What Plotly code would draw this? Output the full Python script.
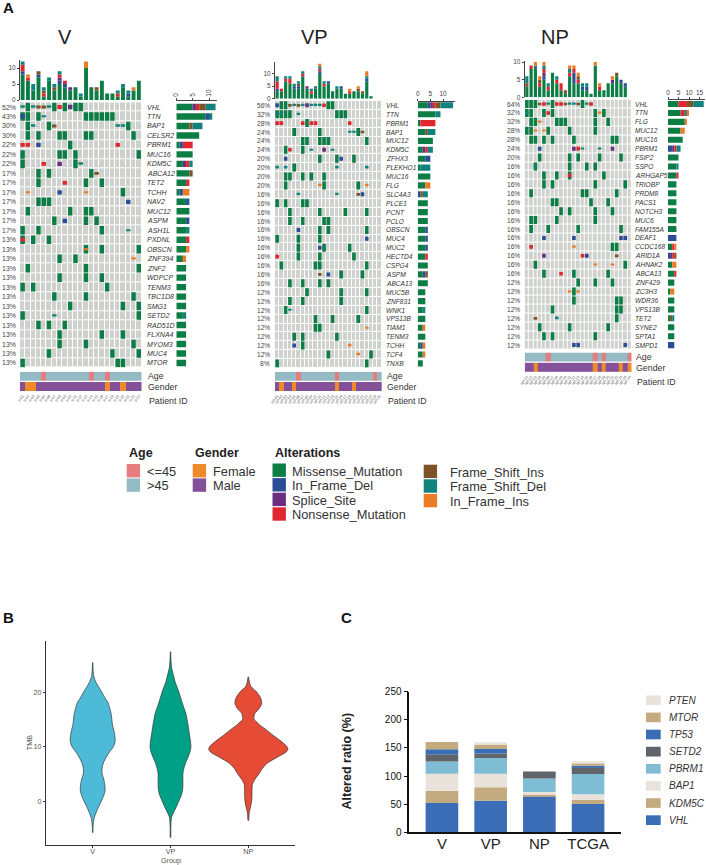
import numpy as np
import plotly.graph_objects as go

W, H = 706, 865
FONT = "Liberation Sans"

# alteration codes: M missense, D in-frame del, S splice, N nonsense,
# I frameshift ins, F frameshift del, A in-frame ins
# lowercase in a cell string = green cell with that alteration drawn on top
alt_codes = ["M", "D", "S", "N", "I", "F", "A"]
alt_names = ["Missense_Mutation", "In_Frame_Del", "Splice_Site", "Nonsense_Mutation",
             "Frame_Shift_Ins", "Frame_Shift_Del", "In_Frame_Ins"]
alt_colors = ["#0B7D45", "#2B4C96", "#6A2D82", "#E0272F", "#7C5229", "#12827C", "#EC7B27"]
alt_heights = [0.9, 0.45, 0.45, 0.4, 0.3, 0.18, 0.18]

# ---- V ----
v_genes = ["VHL", "TTN", "BAP1", "CELSR2", "PBRM1", "MUC16", "KDM5C", "ABCA12", "TET2", "TCHH", "NAV2",
           "MUC12", "ASPM", "ASH1L", "PXDNL", "OBSCN", "ZNF394", "ZNF2", "WDPCP", "TENM3", "TBC1D8",
           "SMG1", "SETD2", "RAD51D", "FLXNA4", "MYOM3", "MUC4", "MTOR"]
v_pcts = ["52%", "43%", "30%", "30%", "22%", "22%", "22%", "17%", "17%", "17%", "17%", "17%", "17%", "17%",
          "13%", "13%", "13%", "13%", "13%", "13%", "13%", "13%", "13%", "13%", "13%", "13%", "13%", "13%"]
v_cells = [
    "FMFIIFMNMSMM...........",
    "dM.MF.......MMMMMM.....",
    ".MF..MI...........FFM..",
    ".M.M...MM...MM.......M.",
    "NN.D.....M........N....",
    "M......MM.M...........M",
    "M...N..S..MF...........",
    "...M.M.......MI........",
    "...M....N...M..M.......",
    ".A.....D....A......M...",
    "...MMM..............D..",
    ".M.......M..MM.........",
    "......M.D...M.M........",
    "M..M...........M....F..",
    "n.M..M.................",
    "............a..M......M",
    ".......M..M..........A.",
    ".M..........M.........M",
    ".......M....M..M.......",
    "M.M.............M......",
    "......M.....M........M.",
    ".........M.........M..M",
    "M.....F...............M",
    "...M.M..M..............",
    ".......M.......M...M...",
    ".......M....M........M.",
    ".....M...........M....M",
    "M.................MM...",
]
v_top = ["MMMMMMMMDNNF", "MMMMMMNA", "MMMFF", "MMMMMMMDI", "MNIF", "MMMMMMF", "MMMIF", "MMMMMDSNF", "MMMMDN",
         "MMMS", "MMMM", "MF", "MMMMMMMMMMAA", "MMMM", "MMMI", "MMMMMM", "MM", "MM", "MNF", "MMMMF", "MDF",
         "MMMA", "MMMMMM"]
v_side = ["MMMMMSNIIFFF", "MMMMMMMMMDF", "MMMMIFFF", "MMMMMMM", "MDNNN", "MMMMM", "MMSNF", "MMMMI", "MMMN",
          "MDAA", "MMMD", "MMMM", "MMMD", "MMMF", "MMMN", "MMMA", "MMA", "MMM", "MMM", "MMM", "MMM", "MMM",
          "MMF", "MMM", "MMM", "MMM", "MMM", "MMM"]
v_age_young = [4, 13, 16]
v_female = [1, 2, 16, 19]

# ---- VP ----
vp_genes = ["VHL", "TTN", "PBRM1", "BAP1", "MUC12", "KDM5C", "ZFHX3", "PLEKHO1", "MUC16", "FLG", "SLC4A3",
            "PLCE1", "PCNT", "PCLO", "OBSCN", "MUC4", "MUC2", "HECTD4", "CSPG4", "ASPM", "ABCA13", "MUC5B",
            "ZNF831", "WNK1", "VPS13B", "TIAM1", "TENM3", "TCHH", "TCF4", "TNXB"]
vp_pcts = ["56%", "32%", "28%", "24%", "24%", "24%", "20%", "20%", "20%", "20%", "16%", "16%", "16%", "16%", "16%",
           "16%", "16%", "16%", "16%", "16%", "16%", "12%", "12%", "12%", "12%", "12%", "12%", "12%", "12%", "8%"]
vp_cells = [
    "DMMIFIFSFFFNMM...........",
    "ffMM.F........MMM........",
    "NN....NMNN.......N.......",
    "....M.....M......FFMI....",
    "......MM..MMM........M...",
    "..MN..M.F..S.F...........",
    "..D.......M...MD..M......",
    "F.F.M.........F......F...",
    "..MM..M.M..M.............",
    "..M.......AM.......M.A...",
    ".....F........F....ID....",
    "M.M...MM.................",
    "...M......M.....M....M...",
    "...M..M....MM............",
    ".....D....M.M........M...",
    "M....M....M..........D...",
    ".....M....DM.....M.......",
    "N....M....M.......M......",
    ".M.......MM..........M...",
    "..........I.D..M....M....",
    "...M..M...M.M............",
    ".......M.......M.....M...",
    "...M..M........M.........",
    "..MF.................M...",
    ".........M...M.....M.....",
    ".........MM..........A...",
    "....M.M.......M..........",
    "....D.M..........A.......",
    "............M......A..M..",
    "M....................M...",
]
vp_top = ["MMMDNNNFF", "MMMN", "MMMMMMMNF", "MMMMMMNNF", "MMMMDF", "MMMMDIF", "MMMMMMMMMNF", "MMMMS", "MMNF",
          "MMMMF", "MMMMMMMMMMDNFA", "MMMMMNF", "MMMMMMD", "MMM", "MMMMF", "MMMMD", "MM", "MMNA", "MMM",
          "MMMIA", "MMI", "MMMMMMMDFAA", "M", "", ""]
vp_side = ["MMMMDSNIIFFFFF", "MMMMMMMFF", "MNNNNNN", "MMMIFFF", "MMMMMM", "MMSNFF", "MMMDD", "MFFFF", "MMMMM",
           "MMMAA", "DIFF", "MMMM", "MMMM", "MMMM", "MMMD", "MMMD", "MMMD", "MMMN", "MMMM", "MMDI", "MMMM",
           "MMM", "MMM", "MMF", "MMM", "MMA", "MMM", "MDA", "MMA", "MM"]
vp_age_young = [5, 14, 23]
vp_female = [1, 4, 14, 18]

# ---- NP ----
np_genes = ["VHL", "TTN", "FLG", "MUC12", "MUC16", "PBRM1", "FSIP2", "SSPO", "ARHGAP5", "TRIOBP", "PRDM8", "PACS1",
            "NOTCH3", "MUC6", "FAM155A", "DEAF1", "CCDC168", "ARID1A", "AHNAK2", "ABCA13", "ZNF429", "ZC3H3",
            "WDR36", "VPS13B", "TET2", "SYNE2", "SPTA1", "SMPD1"]
np_pcts = ["64%", "32%", "32%", "28%", "28%", "24%", "20%", "16%", "16%", "16%", "16%", "16%", "16%", "16%",
           "16%", "16%", "16%", "16%", "16%", "16%", "12%", "12%", "12%", "12%", "12%", "12%", "12%", "12%"]
np_cells = [
    "MMMINFMNNIFFIMFN.........",
    "fM..MNM.........MAM......",
    ".MMA...MMM......M..M.....",
    "MMA.AM....M.....M........",
    ".MM.M.M....M........MM...",
    "...D.......SNF...F..S....",
    "...M......M.M....M....M..",
    "..f.......M...M.M........",
    "....M..M..n.......M......",
    "....M.M.........M......M.",
    ".M...........MM......M...",
    "......MM.......M...M.....",
    "........M.M.....M...M....",
    ".MM....M........M........",
    ".M...M......M.........M..",
    "....D......D..........DD.",
    ".N.........A........MM...",
    "....S........ND......I...",
    "..M.............A...A..M.",
    "....M...N..M.......M.....",
    "............M...M...M....",
    "..........AMA............",
    "...........M.........MM..",
    "......M..............MM..",
    "..I....F.............M...",
    "...M......M........M.....",
    "....M.M.........M........",
    "...........DD..........D.",
]
np_top = ["MMMIFF", "MMMMMMMMN", "MMMMMMMMFA", "MMMNIA", "MMMMMDSNFA", "MMNF", "MMMMMMM", "MMMMNF", "MMNN", "MI",
          "MMMMMMNFA", "MMMMDDDNA", "MMMMNIA", "MMDF", "MMDF", "M", "MMMMMMMMMA", "MMNA", "MM", "MMMM", "MMMMSA",
          "MMMMMMI", "MMMMD", "MMMD", ""]
np_side = ["MMMMMNNNNIIIFFFFF", "MMMMMMNNFA", "MMMMMMMMA", "MMMMMMAA", "MMMMMMM", "DDSNFF", "MMMMM", "MMMMF",
           "MMMMN", "MMMM", "MMMM", "MMMM", "MMMM", "MMMM", "MMMM", "DDDD", "MMNA", "DSNI", "MMAA", "MMMN",
           "MMM", "MAA", "MMM", "MMM", "MIF", "MMM", "MMM", "DDD"]
np_age_young = [5, 16, 18, 24]
np_female = [2, 16, 18, 22, 24]

# ---- panel B: TMB level and half width of each violin ----
v_tmb = [25.4, 24, 23, 22, 21, 20, 19, 18, 17, 16, 15, 14, 13, 12, 11, 10, 9, 8, 7, 6, 5, 4, 3, 2, 1, 0, -1, -2, -3, -4, -5, -5.8]
v_width = [0.5, 1.5, 3, 8, 17, 27, 36, 46, 51, 55, 57, 59, 63, 66, 67, 62, 50, 40, 32, 28, 28, 33, 36, 37, 33, 26, 18, 11, 5, 2, 1, 0.5]
vp_tmb = [27.4, 24.6, 22.8, 22, 20, 18, 16, 14, 12, 10, 9, 8, 7, 6, 5, 3, 2, 1, 0, -1, -2, -3, -5, -6.7]
vp_width = [0.5, 3, 10, 13, 25, 35, 46, 52, 57, 61, 58, 52, 45, 40, 37, 37, 36, 32, 25, 18, 10, 3, 1, 0.5]
np_tmb = [22.8, 21.6, 21, 20, 19, 18, 17, 16, 15, 14.5, 14, 13, 12, 11, 10, 9.5, 9, 8, 7, 6, 5, 4, 3, 1, 0, -1, -2, -3.6]
np_width = [0.5, 4, 8, 25, 36, 40, 33, 19, 17, 25, 33, 55, 75, 97, 115, 118, 113, 85, 58, 42, 32, 20, 12, 11, 10, 7, 3, 0.5]
violin_colors = ["#4DBAD8", "#00A087", "#E64B35"]
group_labels = ["V", "VP", "NP"]

# ---- panel C ----
cohorts = ["V", "VP", "NP", "TCGA"]
c_genes = ["VHL", "KDM5C", "BAP1", "PBRM1", "SETD2", "TP53", "MTOR", "PTEN"]
c_colors = ["#3A6DB5", "#C4AB7F", "#E9E3DC", "#7EBDD3", "#5F656B", "#3A6DB5", "#C4AB7F", "#E9E3DC"]
c_vhl = [52, 56, 64, 50.5]
c_kdm5c = [22, 24, 3, 7]
c_bap1 = [30, 24, 4.5, 10]
c_pbrm1 = [22, 28, 24, 36]
c_setd2 = [13, 8, 12.5, 12]
c_tp53 = [8.5, 8, 0, 3]
c_mtor = [13, 8, 0, 5]
c_pten = [0, 4, 0, 3]

fig = go.Figure()
layout = {}
annotations = []
shapes = []
axis_count = [1]


def px_x(x):
    return x / W


def px_y(y):
    return 1 - y / H


def new_axes(x0, x1, y0, y1, xopts, yopts):
    axis_count[0] += 1
    n = axis_count[0]
    base = dict(showgrid=False, zeroline=False, showline=False, showticklabels=False, ticks="")
    layout[f"xaxis{n}"] = {**base, "domain": [px_x(x0), px_x(x1)], "anchor": f"y{n}", **xopts}
    layout[f"yaxis{n}"] = {**base, "domain": [px_y(y1), px_y(y0)], "anchor": f"x{n}", **yopts}
    return f"x{n}", f"y{n}"


def label(x, y, text, size, color="#333333", anchor="left", yref="paper", angle=0):
    annotations.append(dict(x=px_x(x), y=px_y(y) if yref == "paper" else y, xref="paper", yref=yref, text=text,
                            showarrow=False, xanchor=anchor, yanchor="middle", textangle=angle,
                            font=dict(size=size, color=color, family=FONT)))


def stacked(comps, xa, ya, width, horizontal=False):
    # one bar per string, stacked in alteration order
    base = np.zeros(len(comps))
    for code, color in zip(alt_codes, alt_colors):
        counts = np.array([c.count(code) for c in comps])
        pos = np.arange(len(comps))
        fig.add_trace(go.Bar(
            x=counts if horizontal else pos, y=pos if horizontal else counts, base=base.copy(),
            orientation="h" if horizontal else "v", width=width, marker=dict(color=color, line=dict(width=0)),
            xaxis=xa, yaxis=ya, showlegend=False, name=code))
        base += counts


def oncoplot(title, title_x, genes, pcts, cells, top, side, young, female, geo):
    n_rows, n_cols = len(genes), len(cells[0])
    x0, x1, first, step = geo["x0"], geo["x1"], geo["first"], geo["step"]
    row_top, row_bot = first - step / 2, first + step * (n_rows - 0.5)
    col_range = [-0.5, n_cols - 0.5]
    axis_font = dict(size=6.5, color="#444444", family=FONT)

    # top barplot
    xa, ya = new_axes(x0, x1, geo["top_y0"], geo["top_y1"], dict(range=col_range),
                      dict(range=[0, geo["top_max"]], showline=True, linecolor="#444444", linewidth=1,
                           ticks="outside", ticklen=2, tickwidth=0.7, tickcolor="#444444", tickvals=[0, 5, 10],
                           showticklabels=True, tickfont=axis_font))
    stacked(top, xa, ya, 0.74)

    # main grid
    xa, ya = new_axes(x0, x1, row_top, row_bot, dict(range=col_range), dict(range=[n_rows - 0.5, -0.5]))
    fig.add_trace(go.Heatmap(z=np.zeros((n_rows, n_cols)), colorscale=[[0, "#CFD1CC"], [1, "#CFD1CC"]], showscale=False,
                             xgap=1, ygap=1, hoverinfo="skip", xaxis=xa, yaxis=ya))
    for code, color, hgt in zip(alt_codes, alt_colors, alt_heights):
        xs, ys = [], []
        for r, row in enumerate(cells):
            for c, ch in enumerate(row):
                if ch == code or (ch.islower() and (ch.upper() == code or code == "M")):
                    xs.append(c)
                    ys.append(r)
        fig.add_trace(go.Bar(x=xs, y=[hgt] * len(ys), base=[r - hgt / 2 for r in ys], width=0.84,
                             marker=dict(color=color, line=dict(width=0)), xaxis=xa, yaxis=ya,
                             showlegend=False, name=code))
    for r, (gene, pct) in enumerate(zip(genes, pcts)):
        label(geo["pct_x"], r, pct, geo["font"], color="#444444", anchor="right", yref=ya)
        label(geo["gene_x"], r, f"<i>{gene}</i>", geo["font"], color="#333333", yref=ya)

    # side barplot
    xa, ya = new_axes(geo["side_x0"], geo["side_x1"], row_top, row_bot,
                      dict(range=[0, (geo["side_x1"] - geo["side_x0"]) / geo["side_unit"]], side="top",
                           anchor="free", position=px_y(geo["side_axis_y"]), showline=True, linecolor="#444444",
                           linewidth=1, ticks="outside", ticklen=2, tickwidth=0.7, tickcolor="#444444",
                           tickvals=geo["side_ticks"], showticklabels=True, tickfont=axis_font,
                           tickangle=geo["side_angle"]),
                      dict(range=[n_rows - 0.5, -0.5]))
    stacked(side, xa, ya, 0.68, horizontal=True)

    # age / gender strips with the patient ids below
    patients = [f"{title}-{i + 1:02d}" for i in range(n_cols)]
    xa, ya = new_axes(x0, x1, geo["anno_y0"], geo["anno_y0"] + 20.6,
                      dict(range=col_range, tickvals=list(range(n_cols)), ticktext=patients, showticklabels=True,
                           tickangle=-55, tickfont=dict(size=3.6, color="#555555", family=FONT)),
                      dict(range=[1.5, -0.5]))
    age_row = [1 if i in young else 0 for i in range(n_cols)]
    gender_row = [1 if i in female else 0 for i in range(n_cols)]
    fig.add_trace(go.Heatmap(z=[age_row], y=[0], colorscale=[[0, "#94BAC4"], [1, "#E57D7F"]], zmin=0, zmax=1,
                             showscale=False, ygap=1, hoverinfo="skip", xaxis=xa, yaxis=ya))
    fig.add_trace(go.Heatmap(z=[gender_row], y=[1], colorscale=[[0, "#85509A"], [1, "#EE8A2C"]], zmin=0, zmax=1,
                             showscale=False, ygap=1, hoverinfo="skip", xaxis=xa, yaxis=ya))
    label(geo["anno_x"], geo["anno_y0"] + 4.5, "Age", 8.8)
    label(geo["anno_x"], geo["anno_y0"] + 15.5, "Gender", 8.8)
    label(geo["anno_x"] + 1, geo["anno_y0"] + 29, "Patient ID", 8.8)
    label(title_x, 37, title, 20, color="#222222", anchor="center")


oncoplot("V", 65, v_genes, v_pcts, v_cells, v_top, v_side, v_age_young, v_female,
         dict(x0=20, x1=141.5, first=107, step=9.48, top_y0=60, top_y1=100, top_max=12.5, pct_x=17.5, gene_x=145,
              font=7, side_x0=176.3, side_x1=217.3, side_unit=3.27, side_axis_y=100, side_ticks=[0, 5, 10],
              side_angle=-90, anno_y0=371.7, anno_x=145.5))
oncoplot("VP", 314, vp_genes, vp_pcts, vp_cells, vp_top, vp_side, vp_age_young, vp_female,
         dict(x0=275, x1=381.7, first=105.3, step=8.9, top_y0=61.7, top_y1=98.7, top_max=14.8, pct_x=272, gene_x=384.3,
              font=6.6, side_x0=417.7, side_x1=455, side_unit=2.53, side_axis_y=100.7, side_ticks=[0, 5, 10],
              side_angle=0, anno_y0=371.7, anno_x=385))
oncoplot("NP", 554.7, np_genes, np_pcts, np_cells, np_top, np_side, np_age_young, np_female,
         dict(x0=524.7, x1=631.7, first=104, step=8.93, top_y0=61, top_y1=97.3, top_max=10.3, pct_x=522, gene_x=633.3,
              font=6.6, side_x0=668, side_x1=705, side_unit=2.1, side_axis_y=99.3, side_ticks=[0, 5, 10, 15],
              side_angle=0, anno_y0=352.5, anno_x=634))

# ---- oncoplot legends ----
legend_groups = [
    ("Age", 126.7, 464, 14.4, 145, ["&lt;=45", "&gt;45"], ["#E57D7F", "#94BAC4"]),
    ("Gender", 192.7, 464, 14.4, 211, ["Female", "Male"], ["#EE8A2C", "#85509A"]),
    ("Alterations", 272.5, 463.5, 14.6, 290.3, alt_names[:4], alt_colors[:4]),
    ("", 423.7, 464.7, 14.6, 448, alt_names[4:], alt_colors[4:]),
]
for head, sx, sy, sstep, tx, names, colors in legend_groups:
    if head:
        label(sx, 452.5, f"<b>{head}</b>", 12.5, color="#222222")
    for i, (name, color) in enumerate(zip(names, colors)):
        shapes.append(dict(type="rect", xref="paper", yref="paper", x0=px_x(sx), x1=px_x(sx + 13.4),
                           y0=px_y(sy + i * sstep), y1=px_y(sy + i * sstep + 13.4), fillcolor=color,
                           line=dict(width=0)))
        label(tx, sy + i * sstep + 7.5, name, 12.8, color="#333333")

# ---- panel B ----
xa, ya = new_axes(46, 295, 641, 845.3,
                  dict(range=[0.4, 3.6], tickvals=[1, 2, 3], ticktext=group_labels, showticklabels=True, showline=True,
                       linecolor="#333333", linewidth=1, ticks="outside", ticklen=2, tickcolor="#333333", tickwidth=0.7,
                       ticklabelstandoff=-3, tickfont=dict(size=7.2, color="#555555", family=FONT)),
                  dict(range=[-8.13, 29.36], tickvals=[0, 10, 20], showticklabels=True, showline=True,
                       linecolor="#333333", linewidth=1, ticks="outside", ticklen=2, tickcolor="#333333", tickwidth=0.7,
                       tickfont=dict(size=7.2, color="#555555", family=FONT)))
violin_scale = 1 / 232
for i, (tmb, width) in enumerate([(v_tmb, v_width), (vp_tmb, vp_width), (np_tmb, np_width)]):
    hw = np.array(width) * violin_scale
    fig.add_trace(go.Scatter(x=np.concatenate([i + 1 + hw, (i + 1 - hw)[::-1]]), y=list(tmb) + list(tmb)[::-1],
                             mode="lines", fill="toself", fillcolor=violin_colors[i],
                             line=dict(color="#333333", width=0.7, shape="spline", smoothing=0.7),
                             xaxis=xa, yaxis=ya, showlegend=False, name=group_labels[i]))
label(170.7, 860.5, "Group", 7.2, color="#555555", anchor="center")
label(29.5, 742.7, "TMB", 7.2, color="#555555", anchor="center", angle=-90)

# ---- panel C ----
xa, ya = new_axes(409.3, 620.7, 691.7, 832.3,
                  dict(type="category", range=[-0.67, 3.67], showticklabels=True, showline=True, linecolor="#111111",
                       linewidth=1.5, ticklabelstandoff=-3, tickfont=dict(size=15, color="#222222", family=FONT)),
                  dict(range=[0, 250], tickvals=[0, 50, 100, 150, 200, 250], showticklabels=True, showline=True,
                       linecolor="#111111", linewidth=1.5, ticks="outside", ticklen=4, tickwidth=1.3, tickcolor="#111111",
                       tickfont=dict(size=10, color="#111111", family=FONT + " Bold, " + FONT)))
c_base = np.zeros(len(cohorts))
c_series = [c_vhl, c_kdm5c, c_bap1, c_pbrm1, c_setd2, c_tp53, c_mtor, c_pten]
for gene, color, vals in zip(c_genes, c_colors, c_series):
    fig.add_trace(go.Bar(x=cohorts, y=vals, base=c_base.copy(), width=0.67, marker=dict(color=color, line=dict(width=0)),
                         xaxis=xa, yaxis=ya, showlegend=False, name=gene))
    c_base += np.array(vals)
for i, (gene, color) in enumerate(zip(c_genes[::-1], c_colors[::-1])):
    y = 695.4 + i * 17.13
    shapes.append(dict(type="rect", xref="paper", yref="paper", x0=px_x(646), x1=px_x(660.7), y0=px_y(y), y1=px_y(y + 9.7),
                       fillcolor=color, line=dict(width=0)))
    label(667, y + 4.9, f"<i>{gene}</i>", 10, color="#333333")
label(346.5, 761, "<b>Altered ratio (%)</b>", 12.5, color="#222222", anchor="center", angle=-90)

# panel letters
label(1, 8, "<b>A</b>", 15, color="#111111")
label(1, 617, "<b>B</b>", 15, color="#111111")
label(339, 617, "<b>C</b>", 15, color="#111111")

fig.update_layout(width=W, height=H, margin=dict(l=0, r=0, t=0, b=0), template="none", barmode="overlay",
                  paper_bgcolor="white", plot_bgcolor="rgba(0,0,0,0)", showlegend=False, annotations=annotations,
                  shapes=shapes, font=dict(family=FONT), **layout)
# browser default body margin would push the page 8px off
fig.write_html("out.html", config=dict(displayModeBar=False), post_script="document.body.style.margin='0';")
